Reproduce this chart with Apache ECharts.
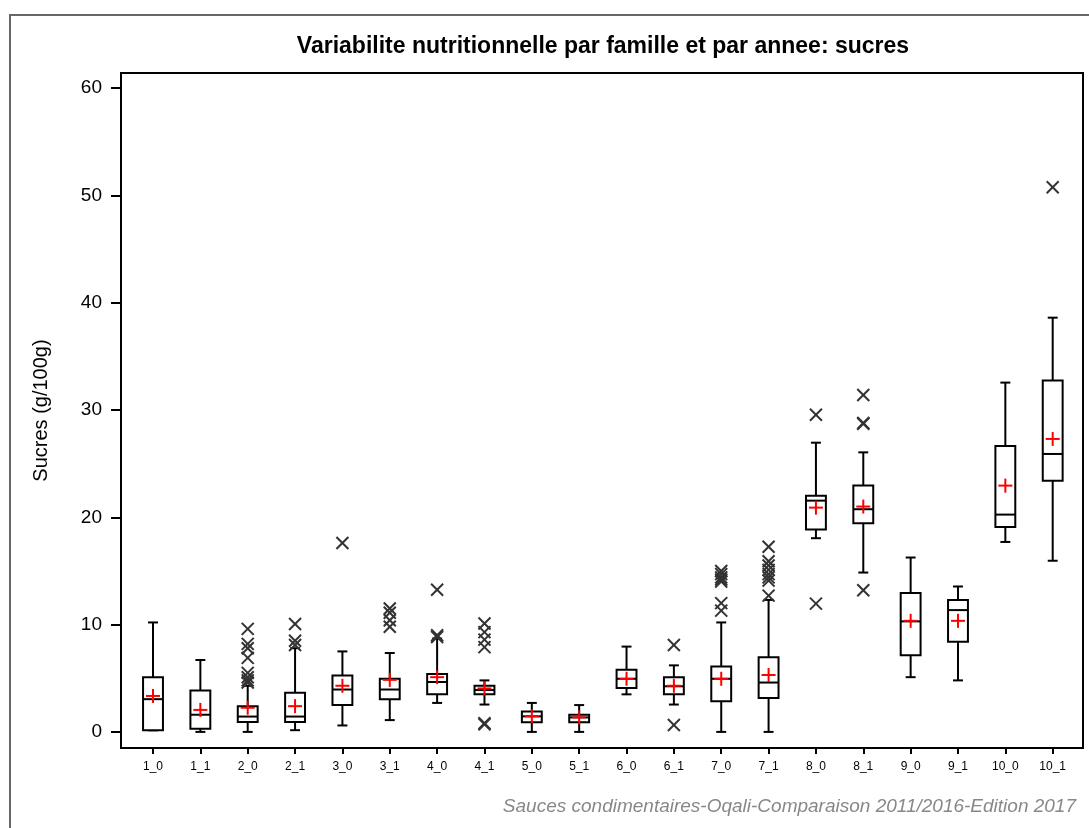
<!DOCTYPE html>
<html>
<head>
<meta charset="utf-8">
<script src="https://cdn.jsdelivr.net/npm/echarts@6/dist/echarts.min.js"></script>
<style>html,body{margin:0;padding:0;background:#fff;}#c{width:1089px;height:828px;}</style>
</head>
<body>
<div id="c"></div>
<script>
const categories = ['1_0','1_1','2_0','2_1','3_0','3_1','4_0','4_1','5_0','5_1','6_0','6_1','7_0','7_1','8_0','8_1','9_0','9_1','10_0','10_1'];
const whiskerLow  = [0.15, 0,    0,    0.16, 0.6,  1.1,  2.7,  2.55, 0,    0,    3.5,  2.55, 0,    0,    18.05, 14.85, 5.1,   4.8,   17.7,  15.95];
const q1          = [0.15, 0.3,  0.93, 0.93, 2.5,  3.05, 3.5,  3.5,  0.9,  0.9,  4.1,  3.5,  2.85, 3.15, 18.85, 19.45, 7.15,  8.4,   19.1,  23.4];
const median      = [3.05, 1.6,  1.43, 1.43, 3.95, 3.95, 4.65, 3.9,  1.45, 1.35, 4.95, 4.25, 4.95, 4.6,  21.55, 20.75, 10.3,  11.35, 20.25, 25.9];
const q3          = [5.1,  3.85, 2.4,  3.65, 5.25, 4.95, 5.4,  4.3,  1.9,  1.6,  5.8,  5.1,  6.1,  6.95, 22.0,  22.95, 12.95, 12.3,  26.65, 32.75];
const whiskerHigh = [10.2, 6.7,  4.3,  7.8,  7.5,  7.35, 8.7,  4.8,  2.7,  2.5,  7.95, 6.2,  10.2, 12.3, 26.95, 26.05, 16.25, 13.55, 32.55, 38.6];
const means       = [3.35, 2.05, 2.25, 2.4,  4.3,  4.85, 5.1,  4.05, 1.45, 1.35, 4.95, 4.3,  4.95, 5.3,  20.9,  21.0,  10.35, 10.35, 22.95, 27.3];
const outliers = [
  [], [],
  [9.6, 8.2, 7.8, 6.9, 5.5, 5.1, 4.8, 4.6],
  [10.05, 8.5, 8.1],
  [17.6],
  [11.5, 11.1, 10.4, 9.8],
  [13.25, 9.0, 8.85],
  [10.1, 9.3, 8.6, 7.9, 0.8, 0.7],
  [], [], [],
  [8.1, 0.65],
  [15.0, 14.7, 14.4, 14.2, 14.0, 12.0, 11.3],
  [17.25, 15.9, 15.5, 15.1, 14.7, 14.4, 14.1, 12.7],
  [29.55, 11.95],
  [31.4, 28.8, 28.7, 13.2],
  [], [], [],
  [50.75]
];
const yTicks = [0, 10, 20, 30, 40, 50, 60];
const titleText = 'Variabilite nutritionnelle par famille et par annee: sucres';
const yAxisName = 'Sucres (g/100g)';
const footerText = 'Sauces condimentaires-Oqali-Comparaison 2011/2016-Edition 2017';

const boxData = categories.map((c, i) => [i, whiskerLow[i], q1[i], median[i], q3[i], whiskerHigh[i], means[i]]);
const outData = [];
outliers.forEach((arr, i) => arr.forEach(v => outData.push([i, v])));

const FONT = '"Liberation Sans", Arial, sans-serif';

function renderBox(params, api) {
  const i = api.value(0);
  const pLo = api.coord([i, api.value(1)]);
  const pQ1 = api.coord([i, api.value(2)]);
  const pMd = api.coord([i, api.value(3)]);
  const pQ3 = api.coord([i, api.value(4)]);
  const pHi = api.coord([i, api.value(5)]);
  const pMn = api.coord([i, api.value(6)]);
  const x = pMd[0];
  const hw = api.size([0.42, 0])[0] / 2;
  const cap = hw / 2;
  const st = {stroke: '#000', lineWidth: 2, fill: null};
  const rs = {stroke: '#ff0000', lineWidth: 2};
  return {
    type: 'group',
    children: [
      {type: 'line', shape: {x1: x, y1: pQ3[1], x2: x, y2: pHi[1]}, style: st},
      {type: 'line', shape: {x1: x - cap, y1: pHi[1], x2: x + cap, y2: pHi[1]}, style: st},
      {type: 'line', shape: {x1: x, y1: pQ1[1], x2: x, y2: pLo[1]}, style: st},
      {type: 'line', shape: {x1: x - cap, y1: pLo[1], x2: x + cap, y2: pLo[1]}, style: st},
      {type: 'rect', shape: {x: x - hw, y: pQ3[1], width: 2 * hw, height: pQ1[1] - pQ3[1]}, style: {stroke: '#000', lineWidth: 2, fill: '#fff'}},
      {type: 'line', shape: {x1: x - hw, y1: pMd[1], x2: x + hw, y2: pMd[1]}, style: st},
      {type: 'line', shape: {x1: x - 7, y1: pMn[1], x2: x + 7, y2: pMn[1]}, style: rs},
      {type: 'line', shape: {x1: x, y1: pMn[1] - 7, x2: x, y2: pMn[1] + 7}, style: rs}
    ]
  };
}

function renderOut(params, api) {
  const p = api.coord([api.value(0), api.value(1)]);
  const s = 6;
  const st = {stroke: '#333', lineWidth: 2};
  return {
    type: 'group',
    children: [
      {type: 'line', shape: {x1: p[0] - s, y1: p[1] - s, x2: p[0] + s, y2: p[1] + s}, style: st},
      {type: 'line', shape: {x1: p[0] - s, y1: p[1] + s, x2: p[0] + s, y2: p[1] - s}, style: st}
    ]
  };
}

const chart = echarts.init(document.getElementById('c'), null, {renderer: 'canvas'});
chart.setOption({
  backgroundColor: '#fff',
  animation: false,
  grid: {left: 121, top: 73, width: 962, height: 675, show: true, borderColor: '#000', borderWidth: 2, backgroundColor: 'transparent'},
  xAxis: {
    type: 'value', min: -0.676, max: 19.64,
    splitLine: {show: false},
    axisLine: {show: true, onZero: false, lineStyle: {color: '#000', width: 2}},
    axisTick: {show: true, length: 6, lineStyle: {color: '#000', width: 2}, customValues: categories.map((c, i) => i)},
    axisLabel: {customValues: categories.map((c, i) => i), formatter: v => categories[Math.round(v)], fontFamily: FONT, fontSize: 12, color: '#000', margin: 13}
  },
  yAxis: {
    type: 'value', min: -1.5, max: 61.4,
    splitLine: {show: false},
    axisLine: {show: true, onZero: false, lineStyle: {color: '#000', width: 2}},
    axisTick: {show: true, length: 10, lineStyle: {color: '#000', width: 2}, customValues: yTicks},
    axisLabel: {customValues: yTicks, fontFamily: FONT, fontSize: 19, color: '#000', margin: 19},
    name: yAxisName, nameLocation: 'middle', nameGap: 70,
    nameTextStyle: {fontFamily: FONT, fontSize: 20, color: '#000'}
  },
  graphic: [
    {type: 'polyline', shape: {points: [[10, 828], [10, 15], [1089, 15]]}, style: {stroke: '#666', lineWidth: 2, fill: null}},
    {type: 'text', x: 603, y: 47, style: {text: titleText, font: 'bold 23px ' + FONT, fill: '#000', textAlign: 'center', textVerticalAlign: 'middle', align: 'center', verticalAlign: 'middle'}},
    {type: 'text', x: 1076, y: 807, style: {text: footerText, font: 'italic 19px ' + FONT, fill: '#888', textAlign: 'right', textVerticalAlign: 'middle', align: 'right', verticalAlign: 'middle'}}
  ],
  series: [
    {type: 'custom', name: 'boxes', renderItem: renderBox, data: boxData, encode: {x: 0, y: [1, 2, 3, 4, 5, 6]}, z: 2},
    {type: 'custom', name: 'outliers', renderItem: renderOut, data: outData, encode: {x: 0, y: 1}, z: 3}
  ]
});
</script>
</body>
</html>
